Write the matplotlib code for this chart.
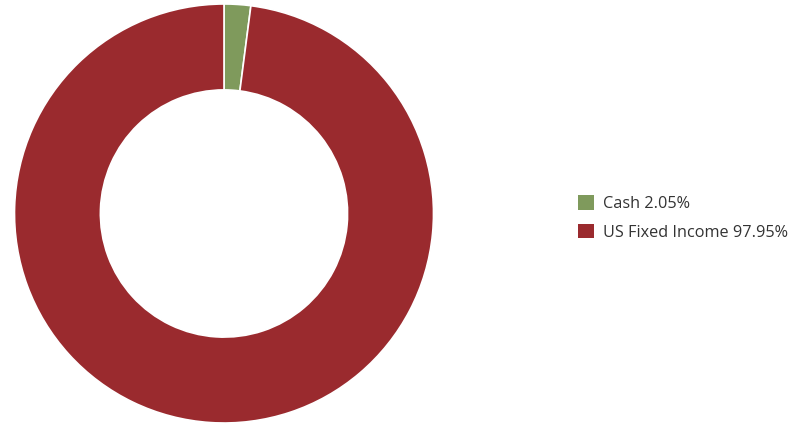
import matplotlib
matplotlib.use("Agg")
import matplotlib.pyplot as plt
from matplotlib.patches import Patch

labels = ["Cash", "US Fixed Income"]
shares = [2.05, 97.95]
colors = ["#7f9a5c", "#9a2a2e"]

plt.rcParams["font.family"] = ["Open Sans", "DejaVu Sans"]

fig = plt.figure(figsize=(8.01, 4.26), dpi=100)
cx, cy, r = 224, 426 - 213.5, 209.5
ax = fig.add_axes([(cx - r) / 801, (cy - r) / 426, 2 * r / 801, 2 * r / 426])
ax.pie(shares, colors=colors, startangle=90, counterclock=False, radius=1.0,
       wedgeprops=dict(width=0.41, edgecolor="white", linewidth=1.2))
ax.set_xlim(-1, 1)
ax.set_ylim(-1, 1)
ax.set_aspect("equal")
ax.axis("off")

handles = [Patch(facecolor=c, edgecolor="none") for c in colors]
texts = [f"{l} {v:.2f}%" for l, v in zip(labels, shares)]
fig.legend(handles, texts, loc="center left", bbox_to_anchor=(563 / 801, 1 - 218 / 426),
           frameon=False, fontsize=11.7, handlelength=1.0, handleheight=1.0,
           handletextpad=0.55, labelspacing=0.7, labelcolor="#333333")

fig.savefig("out.png", dpi=100)
